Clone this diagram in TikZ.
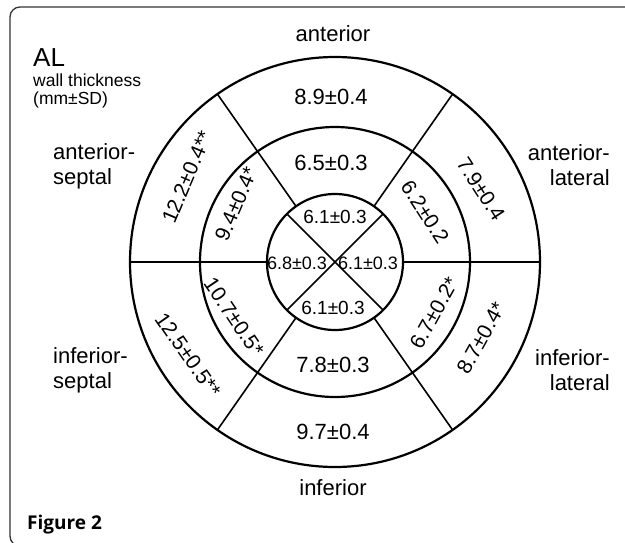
\documentclass[tikz,border=0pt]{standalone}
\usepackage{fontspec}
\setmainfont{Liberation Sans}
\newfontfamily\figfont{Open Sans}
\usetikzlibrary{calc}

\tikzset{
  ring/.style = {line width=2.2},
  divider/.style = {line width=1.6},
  seglabel/.style = {inner sep=0, font=\fontsize{22}{25}\selectfont},
  tiltlabel/.style = {inner sep=0, font=\fontsize{21}{24}\selectfont},
  apexlabel/.style = {inner sep=0, font=\fontsize{19}{22}\selectfont},
  sidelabel/.style = {inner sep=0, font=\fontsize{22}{25}\selectfont},
}

\begin{document}
\begin{tikzpicture}[x=1pt, y=1pt]
			\def\ra{68};
			\def\rb{135};
			\def\rc{205};

			\useasboundingbox (-335,-280) rectangle (290,262);
			\clip (-335,-280) rectangle (290,262);

			% frame
			\draw[black!80, line width=1.3, rounded corners=10] (-325,-284) rectangle (310,255);

			% rings
			\begin{scope}[ring]
				\draw (0,0) circle (\ra);
				\draw (0,0) circle (\rb);
				\draw (0,0) circle (\rc);
			\end{scope}

			% segment borders
			\begin{scope}[divider]
				\draw (0:\ra) -- (0:\rc);
				\draw (180:\ra) -- (180:\rc);
				\foreach \a in {55, 125, 235, 305}
					\draw (\a:\ra) -- (\a:\rc);
				\draw (45:\ra) -- (225:\ra);
				\draw (135:\ra) -- (315:\ra);
			\end{scope}

			% wall names
			\node[sidelabel] (ant) at (-2,228) {anterior};
			\node[sidelabel] (inf) at (-2,-226) {inferior};
			\node[sidelabel, anchor=west, align=left] (antsep) at (-282,96) {anterior-\\septal};
			\node[sidelabel, anchor=east, align=right] (antlat) at (275,97) {anterior-\\lateral};
			\node[sidelabel, anchor=west, align=left] (infsep) at (-282,-108) {inferior-\\septal};
			\node[sidelabel, anchor=east, align=right] (inflat) at (275,-108) {inferior-\\lateral};

			% basal ring
			\node[seglabel] (basant) at (-4,165) {8.9±0.4};
			\node[tiltlabel, rotate=-57] (basantlat) at (146,73) {7.9±0.4};
			\node[tiltlabel, rotate=61] (basinflat) at (146,-76) {8.7±0.4*};
			\node[seglabel] (basinf) at (-2,-170) {9.7±0.4};
			\node[tiltlabel, rotate=-55] (basinfsep) at (-147,-93) {12.5±0.5**};
			\node[tiltlabel, rotate=67] (basantsep) at (-148,85) {12.2±0.4**};

			% mid ring
			\node[seglabel] (midant) at (-4,99) {6.5±0.3};
			\node[tiltlabel, rotate=-57] (midantlat) at (90,50) {6.2±0.2};
			\node[tiltlabel, rotate=61] (midinflat) at (99,-51) {6.7±0.2*};
			\node[seglabel] (midinf) at (-2,-103) {7.8±0.3};
			\node[tiltlabel, rotate=-56] (midinfsep) at (-101,-55) {10.7±0.5*};
			\node[tiltlabel, rotate=67] (midantsep) at (-99,58) {9.4±0.4*};

			% apex
			\node[apexlabel] (apxant) at (0,45) {6.1±0.3};
			\node[apexlabel] (apxinf) at (-2,-46) {6.1±0.3};
			\node[apexlabel, font=\fontsize{18}{21}\selectfont] (apxsep) at (-38,-1) {6.8±0.3};
			\node[apexlabel, font=\fontsize{18}{21}\selectfont] (apxlat) at (33,-1) {6.1±0.3};

			% titles
			\node[inner sep=0, anchor=west, font=\fontsize{26}{29}\selectfont] (al) at (-302,204) {AL};
			\node[inner sep=0, anchor=west, align=left, font=\fontsize{17.5}{18}\selectfont] (wall) at (-302,171) {wall thickness\\(mm±SD)};
			\node[inner sep=0, anchor=west, font=\figfont\bfseries\fontsize{19}{22}\selectfont] (fig) at (-308,-263) {Figure 2};
		\end{tikzpicture}
\end{document}
